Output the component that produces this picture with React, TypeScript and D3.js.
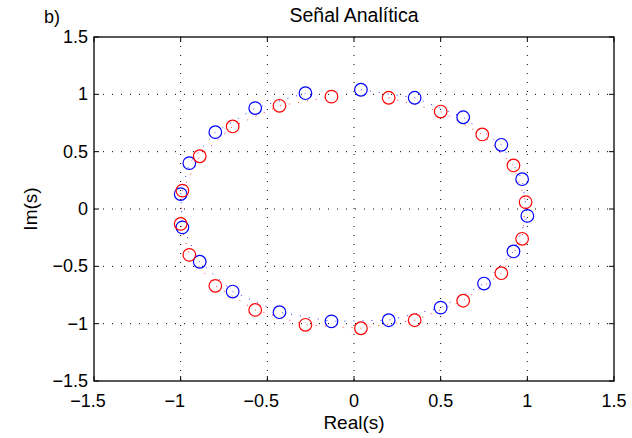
import React, { useEffect, useRef } from 'react';
import * as d3 from 'd3';

// Señal analítica: two series of points in the complex plane (blue and its conjugate in red)
const blueRe = [0.04, 0.35, 0.63, 0.85, 0.97, 1.0, 0.92, 0.75, 0.5, 0.2, -0.13, -0.43, -0.7, -0.89, -0.99, -1.0, -0.95, -0.8, -0.57, -0.28];
const blueIm = [1.04, 0.97, 0.8, 0.56, 0.26, -0.06, -0.37, -0.65, -0.86, -0.97, -0.98, -0.9, -0.72, -0.46, -0.16, 0.13, 0.4, 0.67, 0.88, 1.01];
const redRe = [0.2, 0.5, 0.74, 0.92, 0.99, 0.97, 0.85, 0.63, 0.35, 0.04, -0.28, -0.57, -0.8, -0.95, -1.0, -0.99, -0.89, -0.7, -0.43, -0.13];
const redIm = [0.97, 0.85, 0.65, 0.38, 0.06, -0.26, -0.56, -0.8, -0.97, -1.04, -1.01, -0.88, -0.67, -0.4, -0.13, 0.16, 0.46, 0.72, 0.9, 0.98];

const tickValues = [-1.5, -1, -0.5, 0, 0.5, 1, 1.5];

const W = 632;
const H = 438;
const margin = { top: 37, right: 18, bottom: 57, left: 94 };
const FONT = '"Liberation Sans", Arial, Helvetica, sans-serif';

const fmt = (v: number) => (v < 0 ? '\u2212' + String(Math.abs(v)) : String(v));

const App = () => {
  const svgRef = useRef<SVGSVGElement>(null);

  useEffect(() => {
    const svg = d3.select(svgRef.current);
    svg.selectAll('*').remove();

    const innerW = W - margin.left - margin.right;
    const innerH = H - margin.top - margin.bottom;

    const x = d3.scaleLinear().domain([-1.5, 1.5]).range([0, innerW]);
    const y = d3.scaleLinear().domain([-1.5, 1.5]).range([innerH, 0]);

    svg.append('rect').attr('width', W).attr('height', H).attr('fill', '#fff');

    const g = svg.append('g').attr('transform', `translate(${margin.left},${margin.top})`);

    // grid
    tickValues.slice(1, -1).forEach(t => {
      g.append('line')
        .attr('x1', x(t)).attr('x2', x(t)).attr('y1', 0).attr('y2', innerH)
        .attr('stroke', '#000').attr('stroke-width', 1).attr('stroke-dasharray', '1,8');
      g.append('line')
        .attr('x1', 0).attr('x2', innerW).attr('y1', y(t)).attr('y2', y(t))
        .attr('stroke', '#000').attr('stroke-width', 1).attr('stroke-dasharray', '1,8');
    });

    // dotted series lines and circle markers
    const series = [
      { re: blueRe, im: blueIm, color: '#0000ff' },
      { re: redRe, im: redIm, color: '#ff0000' }
    ];
    const line = d3.line<[number, number]>().x(d => x(d[0])).y(d => y(d[1]));

    series.forEach(s => {
      const pts: [number, number][] = s.re.map((r, i) => [r, s.im[i]]);
      g.append('path')
        .attr('d', line(pts))
        .attr('fill', 'none')
        .attr('stroke', s.color)
        .attr('stroke-width', 1)
        .attr('stroke-dasharray', '1,8')
        .attr('opacity', 0.8);
    });
    series.forEach(s => {
      g.selectAll(null)
        .data(s.re.map((r, i) => [r, s.im[i]]))
        .enter()
        .append('circle')
        .attr('cx', d => x(d[0]))
        .attr('cy', d => y(d[1]))
        .attr('r', 6.3)
        .attr('fill', 'none')
        .attr('stroke', s.color)
        .attr('stroke-width', 1.2);
    });

    // box
    g.append('rect')
      .attr('width', innerW).attr('height', innerH)
      .attr('fill', 'none').attr('stroke', '#000').attr('stroke-width', 1.3);

    // ticks on all four sides
    const tl = 5;
    tickValues.forEach(t => {
      g.append('line').attr('x1', x(t)).attr('x2', x(t)).attr('y1', innerH).attr('y2', innerH - tl).attr('stroke', '#000');
      g.append('line').attr('x1', x(t)).attr('x2', x(t)).attr('y1', 0).attr('y2', tl).attr('stroke', '#000');
      g.append('line').attr('x1', 0).attr('x2', tl).attr('y1', y(t)).attr('y2', y(t)).attr('stroke', '#000');
      g.append('line').attr('x1', innerW).attr('x2', innerW - tl).attr('y1', y(t)).attr('y2', y(t)).attr('stroke', '#000');
    });

    // tick labels (digits centred on the tick, minus sign hangs to the left)
    g.selectAll(null)
      .data(tickValues)
      .enter()
      .append('text')
      .attr('x', d => x(d) - (d < 0 ? 6 : 0))
      .attr('y', innerH + 26)
      .attr('text-anchor', 'middle')
      .style('font-family', FONT)
      .style('font-size', '18px')
      .text(d => fmt(d));

    g.selectAll(null)
      .data(tickValues)
      .enter()
      .append('text')
      .attr('x', -6)
      .attr('y', d => y(d) + 6)
      .attr('text-anchor', 'end')
      .style('font-family', FONT)
      .style('font-size', '18px')
      .text(d => fmt(d));

    // axis titles
    g.append('text')
      .attr('x', innerW / 2)
      .attr('y', innerH + 48)
      .attr('text-anchor', 'middle')
      .style('font-family', FONT)
      .style('font-size', '19px')
      .text('Real(s)');

    g.append('text')
      .attr('transform', `translate(-57,${innerH / 2}) rotate(-90)`)
      .attr('text-anchor', 'middle')
      .style('font-family', FONT)
      .style('font-size', '19px')
      .text('Im(s)');

    g.append('text')
      .attr('x', innerW / 2)
      .attr('y', -15)
      .attr('text-anchor', 'middle')
      .style('font-family', FONT)
      .style('font-size', '19.5px')
      .text('Señal Analítica');

    svg.append('text')
      .attr('x', 44)
      .attr('y', 23)
      .style('font-family', FONT)
      .style('font-size', '18px')
      .text('b)');
  }, []);

  return (
    <svg
      ref={svgRef}
      width={W}
      height={H}
      style={{ position: 'absolute', left: 0, top: 0, display: 'block' }}
    />
  );
};

export default App;
